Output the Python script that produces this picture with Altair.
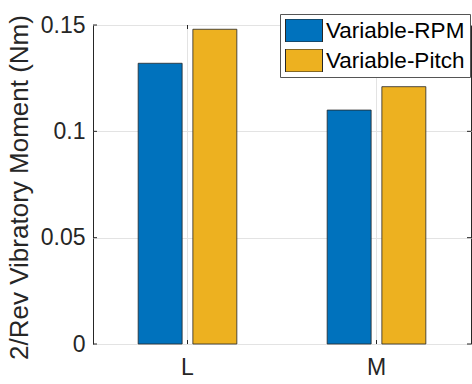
import altair as alt
import pandas as pd

# Bar values per rotor and control scheme
categories = ["L", "M"]
series = ["Variable-RPM", "Variable-Pitch"]
rpm_values = [0.132, 0.110]
pitch_values = [0.148, 0.121]
colors = ["#0072BD", "#EDB120"]
y_ticks = [0, 0.05, 0.1, 0.15]

rows = []
for cat, v in zip(categories, rpm_values):
    rows.append({"cat": cat, "series": series[0], "value": v})
for cat, v in zip(categories, pitch_values):
    rows.append({"cat": cat, "series": series[1], "value": v})
df = pd.DataFrame(rows)
df_yt = pd.DataFrame({"value": y_ticks})
df_xt = pd.DataFrame({"cat": categories})

W, H = 378, 319
FONT = "Liberation Sans"
INK = "#262626"

x_scale = alt.Scale(domain=categories, paddingInner=0.478, paddingOuter=0.239)
y_scale = alt.Scale(domain=[0, 0.15], nice=False, zero=True)

bars = alt.Chart(df).mark_bar(stroke=INK, strokeWidth=0.8).encode(
    x=alt.X("cat:N", scale=x_scale, sort=categories,
            axis=alt.Axis(title=None, labelAngle=0, labelFontSize=23,
                          labelPadding=12, ticks=False, domain=False,
                          grid=True, bandPosition=0.5)),
    xOffset=alt.XOffset("series:N", sort=series,
                        scale=alt.Scale(domain=series, paddingInner=0.196, paddingOuter=0)),
    y=alt.Y("value:Q", scale=y_scale,
            axis=alt.Axis(title="2/Rev Vibratory Moment (Nm)", values=y_ticks,
                          format="~g", labelFontSize=23, labelPadding=8,
                          ticks=False, domain=False, grid=True,
                          titleFontSize=26, titleFontWeight="normal",
                          titleAngle=270, titleAlign="center",
                          titleBaseline="alphabetic", titleX=-66, titleY=162)),
    color=alt.Color("series:N", sort=series,
                    scale=alt.Scale(domain=series, range=colors),
                    legend=alt.Legend(title=None, orient="none",
                                      legendX=187, legendY=-11,
                                      symbolType="M-1,-0.62L1,-0.62L1,0.62L-1,0.62Z",
                                      symbolSize=1369, symbolStrokeColor=INK,
                                      symbolStrokeWidth=1, symbolOpacity=1,
                                      clipHeight=23,
                                      labelFontSize=22.5, labelOffset=3,
                                      labelColor="#000000",
                                      rowPadding=7, padding=5,
                                      strokeColor="#555555", fillColor="white")),
)

# inward tick marks on all four sides of the box
left_ticks = alt.Chart(df_yt).mark_rule(color=INK, strokeWidth=1).encode(
    y=alt.Y("value:Q", scale=y_scale), x=alt.value(0), x2=alt.value(4))
right_ticks = alt.Chart(df_yt).mark_rule(color=INK, strokeWidth=1).encode(
    y=alt.Y("value:Q", scale=y_scale), x=alt.value(W), x2=alt.value(W - 4))
bottom_ticks = alt.Chart(df_xt).mark_rule(color=INK, strokeWidth=1).encode(
    x=alt.X("cat:N", scale=x_scale, sort=categories),
    y=alt.value(H), y2=alt.value(H - 4))
top_ticks = alt.Chart(df_xt).mark_rule(color=INK, strokeWidth=1).encode(
    x=alt.X("cat:N", scale=x_scale, sort=categories),
    y=alt.value(0), y2=alt.value(4))

chart = alt.layer(bars, left_ticks, right_ticks, bottom_ticks, top_ticks).properties(
    width=W, height=H,
    autosize=alt.AutoSizeParams(type="none"),
    padding={"left": 93, "top": 25, "right": 1, "bottom": 40},
).configure(font=FONT).configure_view(
    stroke=INK, strokeWidth=1
).configure_axis(
    labelColor=INK, titleColor=INK, labelFont=FONT, titleFont=FONT,
    gridColor="#e3e3e3", gridWidth=1,
).configure_legend(labelFont=FONT)

chart.save("out.html", embed_options={"renderer": "svg", "actions": False})
